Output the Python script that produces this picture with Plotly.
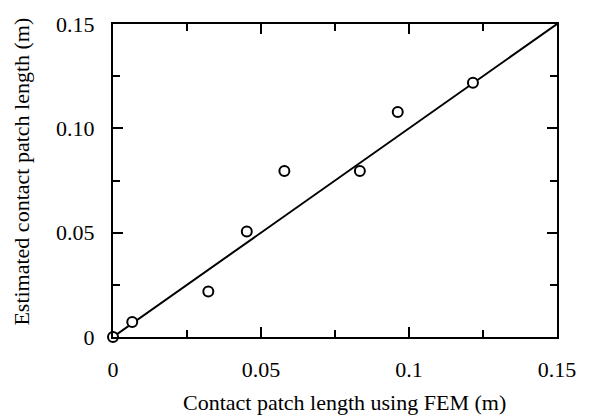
import plotly.graph_objects as go

fem_length = [0.0, 0.0065, 0.0322, 0.0452, 0.0579, 0.0834, 0.0962, 0.1216]
est_length = [0.0, 0.0072, 0.0218, 0.0506, 0.0795, 0.0795, 0.1078, 0.1219]

line_x = [0.0, 0.15]
line_y = [0.0, 0.15]

x_tickvals = [0, 0.05, 0.1, 0.15]
x_ticktext = ["0", "0.05", "0.1", "0.15"]
y_tickvals = [0, 0.05, 0.1, 0.15]
y_ticktext = ["0", "0.05", "0.10", "0.15"]

FONT = "Liberation Serif"

fig = go.Figure()
fig.add_trace(go.Scatter(x=line_x, y=line_y, mode="lines",
                         line=dict(color="black", width=2), cliponaxis=False,
                         showlegend=False, hoverinfo="skip"))
fig.add_trace(go.Scatter(x=fem_length, y=est_length, mode="markers",
                         marker=dict(symbol="circle", size=10, color="white",
                                     line=dict(color="black", width=2)),
                         cliponaxis=False, showlegend=False))

axis_common = dict(
    showgrid=False, zeroline=False, showline=True, linecolor="black", linewidth=2,
    mirror="allticks", ticks="inside", ticklen=10, tickwidth=2, tickcolor="black",
    minor=dict(ticks="inside", ticklen=7, tickwidth=2, tickcolor="black", dtick=0.025),
    tickfont=dict(family=FONT, size=22, color="black"),
)

fig.update_xaxes(range=[0, 0.15], tickmode="array", tickvals=x_tickvals, ticktext=x_ticktext,
                 ticklabelstandoff=12, **axis_common)
fig.update_yaxes(range=[0, 0.15], tickmode="array", tickvals=y_tickvals, ticktext=y_ticktext,
                 ticklabelstandoff=12, **axis_common)

fig.add_annotation(text="Contact patch length using FEM (m)", xref="paper", yref="paper",
                   x=(344 - 113) / 444, y=0, yshift=-65, xanchor="center", yanchor="middle",
                   showarrow=False, font=dict(family=FONT, size=22, color="black"))
fig.add_annotation(text="Estimated contact patch length (m)", xref="paper", yref="paper",
                   x=0, xshift=22 - 113, y=(337 - 169.5) / 317, xanchor="center", yanchor="middle",
                   textangle=-90, showarrow=False, font=dict(family=FONT, size=22, color="black"))

fig.update_layout(width=589, height=415, margin=dict(l=113, r=32, t=20, b=78),
                  plot_bgcolor="white", paper_bgcolor="white",
                  font=dict(family=FONT, size=22, color="black"))

fig.write_html("out.html")
